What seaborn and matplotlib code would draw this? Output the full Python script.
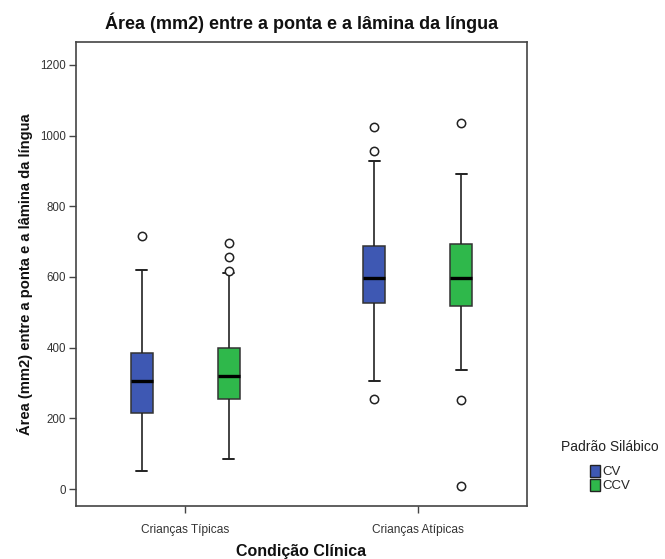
import numpy as np
import pandas as pd
import matplotlib
matplotlib.use("Agg")
import matplotlib.pyplot as plt
from matplotlib.patches import Patch
import seaborn as sns

# summary values (mm2)
grupos = ["Crianças Típicas", "Crianças Típicas", "Crianças Atípicas", "Crianças Atípicas"]
padrao = ["CV", "CCV", "CV", "CCV"]
whisker_lo = [52, 84, 305, 337]
q1 = [214, 256, 526, 519]
mediana = [305, 320, 598, 597]
q3 = [384, 399, 688, 693]
whisker_hi = [620, 612, 928, 892]
outliers_lo = [[], [], [256], [252, 8]]
outliers_hi = [[716], [618, 656, 695], [956, 1025], [1035]]

cores = {"CV": "#3e58b3", "CCV": "#2fb84b"}
ordem_grupos = ["Crianças Típicas", "Crianças Atípicas"]


def amostra(lo, a, m, b, hi, out_lo, out_hi, k=4):
    # values whose quartiles (linear percentiles) fall exactly on a, m, b
    baixo = sorted(out_lo) + [lo]
    baixo = baixo + [a] * (k - len(baixo))
    alto = [hi] + sorted(out_hi)
    alto = [b] * (k - len(alto)) + alto
    return baixo + [a] * k + [m] * k + [b] + alto


linhas = []
for i in range(len(grupos)):
    vals = amostra(whisker_lo[i], q1[i], mediana[i], q3[i], whisker_hi[i],
                   outliers_lo[i], outliers_hi[i])
    for v in vals:
        linhas.append({"Condição Clínica": grupos[i], "Padrão Silábico": padrao[i], "area": v})
df = pd.DataFrame(linhas)

sns.set_theme(style="white")
plt.rcParams["font.family"] = ["Liberation Sans", "DejaVu Sans"]

fig = plt.figure(figsize=(6.65, 5.59), dpi=100)
ax = fig.add_axes([0.1143, 0.0948, 0.6782, 0.8301])

sns.boxplot(data=df, x="Condição Clínica", y="area", hue="Padrão Silábico",
            order=ordem_grupos, hue_order=["CV", "CCV"], palette=cores,
            width=0.75, gap=0.75, whis=1.5, saturation=1, linecolor="#333333",
            linewidth=1.1, fliersize=6,
            medianprops=dict(color="black", linewidth=2.4),
            whiskerprops=dict(color="#222222", linewidth=1.2),
            capprops=dict(color="#222222", linewidth=1.4),
            flierprops=dict(marker="o", markerfacecolor="white",
                            markeredgecolor="#222222", markeredgewidth=1.1),
            legend=False, ax=ax)

ax.set_xlim(-0.47, 1.47)
ax.set_ylim(-48, 1265)
ax.set_yticks([0, 200, 400, 600, 800, 1000, 1200])
for s in ax.spines.values():
    s.set_color("#444444")
    s.set_linewidth(1.2)
ax.tick_params(axis="both", which="both", direction="out", length=5, width=1,
               color="#444444", labelcolor="#333333", pad=2)
ax.tick_params(axis="y", labelsize=8.3)
ax.tick_params(axis="x", labelsize=8.6, pad=8)
ax.yaxis.set_ticks_position("left")
ax.xaxis.set_ticks_position("bottom")

ax.set_title("Área (mm2) entre a ponta e a lâmina da língua",
             fontsize=13, fontweight="bold", color="#111111", pad=9)
ax.set_ylabel("Área (mm2) entre a ponta e a lâmina da língua",
              fontsize=10.6, fontweight="bold", color="#111111", labelpad=5)
ax.set_xlabel("Condição Clínica", fontsize=11.5, fontweight="bold",
              color="#111111", labelpad=6)

handles = [Patch(facecolor=cores[p], edgecolor="#222222", linewidth=1) for p in ["CV", "CCV"]]
leg = fig.legend(handles, ["CV", "CCV"], title="Padrão Silábico",
                 loc="center", bbox_to_anchor=(610 / 665, 1 - 466 / 559),
                 frameon=False, fontsize=9.5, title_fontsize=10,
                 handlelength=0.75, handleheight=1.0, handletextpad=0.15,
                 labelspacing=0.05, alignment="center")
leg.get_title().set_color("#222222")
leg._legend_box.sep = 8

fig.savefig("out.png", dpi=100)
